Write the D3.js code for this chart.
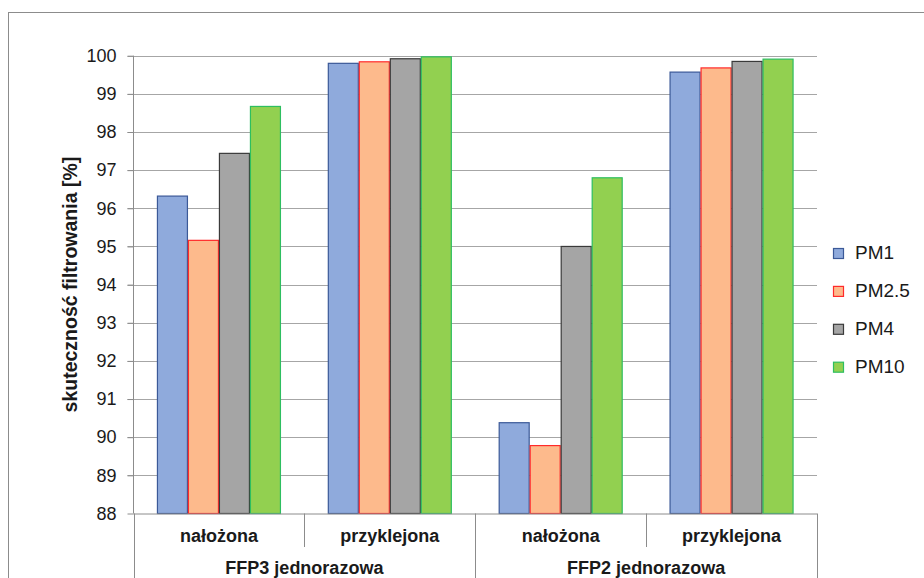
<!DOCTYPE html>
<html><head><meta charset="utf-8">
<script src="https://cdn.jsdelivr.net/npm/d3@7"></script>
<style>body{margin:0;background:#fff}svg{display:block}text{font-family:"Liberation Sans",Arial,sans-serif}</style>
</head><body>
<svg id="c" width="924" height="578"></svg>
<script>
const groups = ["FFP3 jednorazowa", "FFP2 jednorazowa"];
const subcats = ["nałożona", "przyklejona"];
const categories = ["FFP3 nałożona", "FFP3 przyklejona", "FFP2 nałożona", "FFP2 przyklejona"];
const series = ["PM1", "PM2.5", "PM4", "PM10"];
const PM1 = [96.32, 99.80, 90.38, 99.57];
const PM25 = [95.16, 99.84, 89.78, 99.68];
const PM4 = [97.44, 99.92, 95.00, 99.85];
const PM10 = [98.67, 99.97, 96.80, 99.91];
const values = [PM1, PM25, PM4, PM10];
const yTicks = [88, 89, 90, 91, 92, 93, 94, 95, 96, 97, 98, 99, 100];
const fills = ["#8FAADC", "#FDBA8C", "#A5A5A5", "#92D050"];
const strokes = ["#3B5998", "#FF2A2A", "#3A3A3A", "#2DBE60"];

const svg = d3.select("#c");
svg.append("rect").attr("x", 8.5).attr("y", 12.5).attr("width", 940).attr("height", 600)
  .attr("fill", "none").attr("stroke", "#8C8C8C");

const L = 133.5, R = 817, T = 55.7, B = 513.5;
const x = d3.scaleBand().domain(categories).range([L, R]);
const y = d3.scaleLinear().domain([88, 100]).range([B, T]);
const bw = 31;
const inner = d3.scaleBand().domain(series).range([0, bw * 4]);

// gridlines
svg.append("g").selectAll("line").data(yTicks.filter(d => d > 88)).join("line")
  .attr("x1", L - 6).attr("x2", R).attr("y1", d => Math.round(y(d)) + 0.5).attr("y2", d => Math.round(y(d)) + 0.5)
  .attr("stroke", "#A6A6A6").attr("stroke-width", 1.2);

// y axis
const yAxis = d3.axisLeft(y).tickValues(yTicks).tickSize(6).tickPadding(11).tickFormat(d3.format("d"));
const gy = svg.append("g").attr("transform", `translate(${L},0)`).call(yAxis);
gy.select(".domain").attr("stroke", "#8C8C8C").attr("d", `M0,${T}V${B}`);
gy.selectAll(".tick line").attr("stroke", "#8C8C8C");
gy.selectAll(".tick text").attr("font-size", 18).attr("fill", "#1a1a1a").attr("font-family", "Liberation Sans, Arial, sans-serif");

// bars
series.forEach((s, si) => {
  svg.append("g").selectAll("rect").data(values[si]).join("rect")
    .attr("x", (d, i) => x(categories[i]) + (x.bandwidth() - bw * 4) / 2 + inner(s) + 0.5)
    .attr("y", d => y(d))
    .attr("width", inner.bandwidth() - 1)
    .attr("height", d => B - y(d))
    .attr("fill", fills[si]).attr("stroke", strokes[si]).attr("stroke-width", 1.2);
});

// x axis line
svg.append("line").attr("x1", L).attr("x2", R).attr("y1", B + 0.5).attr("y2", B + 0.5).attr("stroke", "#8C8C8C");

// category separators
const sepX = [L, x(categories[1]), x(categories[2]), x(categories[3]), R];
svg.append("g").selectAll("line").data(sepX).join("line")
  .attr("x1", d => Math.round(d) + 0.5).attr("x2", d => Math.round(d) + 0.5)
  .attr("y1", B).attr("y2", (d, i) => (i % 2 === 0) ? 578 : 547)
  .attr("stroke", "#8C8C8C");

// subcategory labels
svg.append("g").selectAll("text").data(categories).join("text")
  .attr("x", d => x(d) + x.bandwidth() / 2).attr("y", 542)
  .attr("text-anchor", "middle").attr("font-weight", "bold").attr("font-size", 18).attr("fill", "#1a1a1a")
  .text((d, i) => subcats[i % 2]);

// group labels
svg.append("g").selectAll("text").data(groups).join("text")
  .attr("x", (d, i) => x(categories[i * 2]) + x.bandwidth()).attr("y", 573.5)
  .attr("text-anchor", "middle").attr("font-weight", "bold").attr("font-size", 18).attr("fill", "#1a1a1a")
  .text(d => d);

// y title
svg.append("text").attr("transform", `translate(77,${(T + B) / 2}) rotate(-90)`)
  .attr("text-anchor", "middle").attr("font-weight", "bold").attr("font-size", 19.5).attr("fill", "#1a1a1a")
  .text("skuteczność filtrowania [%]");

// legend
const lg = svg.append("g").selectAll("g").data(series).join("g")
  .attr("transform", (d, i) => `translate(833,${248 + i * 37.9})`);
lg.append("rect").attr("x", 0.5).attr("y", 0.5).attr("width", 10).attr("height", 10)
  .attr("fill", (d, i) => fills[i]).attr("stroke", (d, i) => strokes[i]).attr("stroke-width", 1.2);
lg.append("text").attr("x", 22).attr("y", 11).attr("font-size", 19).attr("fill", "#1a1a1a").text(d => d);
</script>
</body></html>
